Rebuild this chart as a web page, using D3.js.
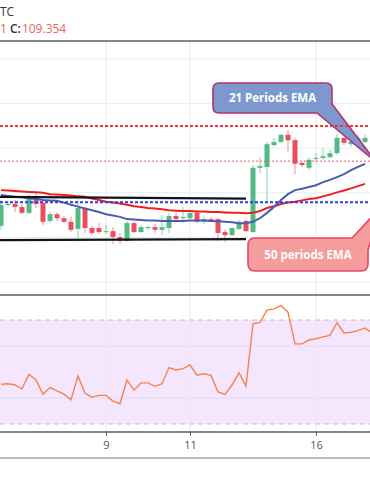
<!DOCTYPE html>
<html>
<head>
<meta charset="utf-8">
<script src="https://cdn.jsdelivr.net/npm/d3@7"></script>
<style>
  html, body { margin: 0; padding: 0; background: #fff; overflow: hidden; }
  svg { display: block; font-family: "Open Sans", "DejaVu Sans", sans-serif; }
</style>
</head>
<body>
<div id="chart"></div>
<script>
// 4h candles, EMA 21 / EMA 50 and RSI pane

// candle prices (open / high / low / close), one per 4h bar
var opens  = [109.126,109.173,109.175,109.168,109.155,109.191,109.177,109.137,109.152,109.143,
              109.135,109.119,109.166,109.121,109.121,109.112,109.114,109.101,109.092,109.132,
              109.112,109.121,109.123,109.117,109.121,109.148,109.143,109.143,109.155,109.135,
              109.141,109.141,109.112,109.105,109.119,109.137,109.112,109.256,109.258,109.307,
              109.314,109.330,109.318,109.267,109.256,109.276,109.278,109.280,109.289,109.323,
              109.309,109.314,109.314];
var highs  = [109.184,109.182,109.184,109.175,109.195,109.200,109.184,109.157,109.157,109.148,
              109.146,109.186,109.168,109.126,109.132,109.128,109.123,109.110,109.137,109.137,
              109.128,109.126,109.130,109.150,109.155,109.155,109.168,109.161,109.161,109.146,
              109.146,109.143,109.117,109.123,109.139,109.139,109.262,109.280,109.314,109.323,
              109.332,109.341,109.323,109.269,109.280,109.289,109.300,109.296,109.332,109.325,
              109.323,109.330,109.330];
var lows   = [109.117,109.168,109.157,109.152,109.152,109.166,109.128,109.132,109.137,109.132,
              109.112,109.090,109.110,109.105,109.108,109.108,109.085,109.085,109.090,109.110,
              109.110,109.117,109.110,109.105,109.110,109.135,109.132,109.139,109.132,109.130,
              109.135,109.092,109.090,109.103,109.117,109.112,109.110,109.244,109.179,109.303,
              109.312,109.291,109.242,109.258,109.251,109.271,109.274,109.278,109.285,109.307,
              109.303,109.307,109.312];
var closes = [109.173,109.175,109.168,109.155,109.193,109.175,109.135,109.152,109.143,109.135,
              109.117,109.166,109.121,109.110,109.112,109.114,109.101,109.092,109.132,109.112,
              109.123,109.123,109.117,109.123,109.148,109.141,109.146,109.155,109.135,109.141,
              109.137,109.110,109.105,109.121,109.135,109.114,109.256,109.260,109.309,109.314,
              109.330,109.318,109.265,109.262,109.274,109.278,109.282,109.289,109.323,109.312,
              109.314,109.323,109.323];

// moving averages
var ema21 = [109.195,109.193,109.191,109.190,109.188,109.186,109.184,109.183,109.182,109.178,
             109.173,109.169,109.165,109.161,109.157,109.152,109.149,109.146,109.141,109.140,
             109.139,109.138,109.138,109.137,109.137,109.137,109.137,109.138,109.138,109.138,
             109.137,109.136,109.135,109.134,109.132,109.132,109.135,109.143,109.155,109.168,
             109.184,109.197,109.206,109.209,109.213,109.217,109.224,109.229,109.235,109.242,
             109.251,109.258,109.265];
var ema50 = [109.206,109.205,109.204,109.203,109.202,109.201,109.200,109.197,109.196,109.195,
             109.194,109.192,109.191,109.187,109.184,109.180,109.178,109.176,109.173,109.170,
             109.168,109.166,109.165,109.163,109.161,109.160,109.159,109.159,109.158,109.158,
             109.157,109.157,109.156,109.155,109.155,109.154,109.155,109.159,109.166,109.170,
             109.175,109.178,109.180,109.183,109.186,109.188,109.192,109.196,109.201,109.205,
             109.210,109.215,109.220];

// RSI values, plus one extra point for the bar cut at the right edge
var rsi = [45.3,45.5,45.0,43.5,49.1,46.9,41.4,44.0,42.7,41.5,
           39.3,48.5,41.8,40.3,41.0,41.0,38.8,37.8,46.9,43.0,
           45.8,45.8,44.5,45.5,51.7,50.8,51.3,52.7,48.8,49.3,
           48.7,42.3,41.4,45.0,49.7,44.6,68.5,69.1,73.8,74.3,
           75.5,73.0,60.8,60.8,62.3,62.8,63.5,64.1,69.0,65.0,
           65.3,65.9,66.9,65.1];

// date ticks (bar index -> day of month)
var tickBars = [15, 27, 45];
var tickLabels = ["9", "11", "16"];

// drawn levels
var priceGrid = [109.0, 109.1, 109.2, 109.3, 109.4, 109.5];
var resistance = 109.350;
var minorLevel = 109.271;
var support = 109.179;
var channelTop = [109.191, 109.187];
var channelBottom = [109.094, 109.096];
var channelBars = [-1, 35];
var rsiGrid = [40, 60];
var rsiBand = [30, 70];

var svgWidth = 370;
var svgHeight = 493;

var svg = d3.select("#chart")
  .append("svg")
  .attr("width", svgWidth)
  .attr("height", svgHeight);

// Step 1: scales
// ==============================
var x = d3.scaleLinear().domain([0, 52]).range([1, 365]);
var y = d3.scaleLinear().domain([109.0, 109.5]).range([282, 59]);
var yRsi = d3.scaleLinear().domain([30, 70]).range([424, 320]);

var bars = d3.range(closes.length);
var green = "#53b987";
var red = "#eb4d5c";

// Step 2: header text
// ==============================
svg.append("text")
  .attr("x", 0).attr("y", 16)
  .attr("font-size", 12).attr("fill", "#333")
  .text("TC");

var legend = svg.append("text")
  .attr("x", 0).attr("y", 32.5)
  .attr("font-size", 12);
legend.append("tspan").attr("fill", "#ef5350").text("1 ");
legend.append("tspan").attr("fill", "#333").attr("font-weight", 600).text("C:");
legend.append("tspan").attr("fill", "#f06462").attr("dx", 1).text("109.354");

// Step 3: grid and panes
// ==============================
svg.append("rect")
  .attr("x", 0).attr("width", svgWidth)
  .attr("y", yRsi(rsiBand[1])).attr("height", yRsi(rsiBand[0]) - yRsi(rsiBand[1]))
  .attr("fill", "#f4e6fd");

svg.selectAll(".hgrid")
  .data(priceGrid)
  .enter().append("line")
  .attr("x1", 0).attr("x2", svgWidth)
  .attr("y1", d => y(d)).attr("y2", d => y(d))
  .attr("stroke", "#e7edf3");

svg.selectAll(".rgrid")
  .data(rsiGrid)
  .enter().append("line")
  .attr("x1", 0).attr("x2", svgWidth)
  .attr("y1", d => yRsi(d)).attr("y2", d => yRsi(d))
  .attr("stroke", "#e2dcf2");

svg.selectAll(".vgrid")
  .data(tickBars)
  .enter().append("line")
  .attr("x1", d => x(d)).attr("x2", d => x(d))
  .attr("y1", 41).attr("y2", 432)
  .attr("stroke", "#e4ebf2");

svg.selectAll(".band")
  .data(rsiBand)
  .enter().append("line")
  .attr("x1", 0).attr("x2", svgWidth)
  .attr("y1", d => yRsi(d)).attr("y2", d => yRsi(d))
  .attr("stroke", "#c4bccb")
  .attr("stroke-dasharray", "5 4");

// pane separators
[41, 295].forEach(function(py) {
  svg.append("line")
    .attr("x1", 0).attr("x2", svgWidth)
    .attr("y1", py).attr("y2", py)
    .attr("stroke", "#5d5d5d").attr("stroke-width", 1.3);
});

// Step 4: candles
// ==============================
var candles = svg.append("g").selectAll("g")
  .data(bars)
  .enter().append("g");

candles.append("line")
  .attr("x1", i => x(i)).attr("x2", i => x(i))
  .attr("y1", i => y(highs[i])).attr("y2", i => y(lows[i]))
  .attr("stroke", i => closes[i] >= opens[i] ? "#8fcfae" : "#f08d97");

candles.append("rect")
  .attr("x", i => x(i) - 2.5)
  .attr("width", 5)
  .attr("y", i => y(Math.max(opens[i], closes[i])))
  .attr("height", i => Math.max(1, Math.abs(y(opens[i]) - y(closes[i]))))
  .attr("fill", i => closes[i] >= opens[i] ? green : red);

// Step 5: EMA lines
// ==============================
var line = d3.line().x((d, i) => x(i)).y(d => y(d));

svg.append("path")
  .datum(ema50)
  .attr("d", line)
  .attr("fill", "none")
  .attr("stroke", "#f21d1d")
  .attr("stroke-width", 2);

svg.append("path")
  .datum(ema21)
  .attr("d", line)
  .attr("fill", "none")
  .attr("stroke", "#4b5cae")
  .attr("stroke-width", 2);

// Step 6: callouts
// ==============================
svg.append("path")
  .attr("d", "M219,83 H326 Q332,83 332,89 V104 L376,162 L317,113 H219 Q213,113 213,107 V89 Q213,83 219,83 Z")
  .attr("fill", "#7d98cf")
  .attr("stroke", "#b3306f")
  .attr("stroke-width", 1.6);

svg.append("text")
  .attr("x", 272.5).attr("y", 102)
  .attr("text-anchor", "middle")
  .attr("font-size", 11.5).attr("font-weight", 700)
  .attr("fill", "#fff")
  .text("21 Periods EMA");

svg.append("path")
  .attr("d", "M255,238 H352 L380,208 L368,250 V264 Q368,271 361,271 H255 Q248,271 248,264 V245 Q248,238 255,238 Z")
  .attr("fill", "#f59c9c")
  .attr("stroke", "#e6466d")
  .attr("stroke-width", 1.6);

svg.append("text")
  .attr("x", 308).attr("y", 258.5)
  .attr("text-anchor", "middle")
  .attr("font-size", 11.5).attr("font-weight", 700)
  .attr("fill", "#fff")
  .text("50 periods EMA");

// Step 7: drawn levels
// ==============================
svg.append("line")
  .attr("x1", 0).attr("x2", svgWidth)
  .attr("y1", y(resistance)).attr("y2", y(resistance))
  .attr("stroke", "#f5333f").attr("stroke-width", 2)
  .attr("stroke-dasharray", "3 2");

svg.append("line")
  .attr("x1", 0).attr("x2", svgWidth)
  .attr("y1", y(minorLevel)).attr("y2", y(minorLevel))
  .attr("stroke", "#ec5a66").attr("stroke-width", 1)
  .attr("stroke-dasharray", "2 2");

svg.append("line")
  .attr("x1", 0).attr("x2", svgWidth)
  .attr("y1", y(support)).attr("y2", y(support))
  .attr("stroke", "#2b3cf0").attr("stroke-width", 2)
  .attr("stroke-dasharray", "3 2");

[channelTop, channelBottom].forEach(function(lv) {
  svg.append("line")
    .attr("x1", x(channelBars[0])).attr("x2", x(channelBars[1]))
    .attr("y1", y(lv[0])).attr("y2", y(lv[1]))
    .attr("stroke", "#141414").attr("stroke-width", 2.2);
});

// Step 8: RSI line
// ==============================
svg.append("path")
  .datum(rsi)
  .attr("d", d3.line().x((d, i) => x(i)).y(d => yRsi(d)))
  .attr("fill", "none")
  .attr("stroke", "#f5844f")
  .attr("stroke-width", 1.4);

// Step 9: time axis
// ==============================
var bottomAxis = d3.axisBottom(x)
  .tickValues(tickBars)
  .tickFormat((d, i) => tickLabels[i])
  .tickSize(4)
  .tickSizeOuter(0);

var axisG = svg.append("g")
  .attr("transform", "translate(0, 432)")
  .call(bottomAxis);

axisG.select(".domain").remove();
axisG.selectAll(".tick line").attr("stroke", "#666");
axisG.selectAll(".tick text")
  .attr("fill", "#555")
  .attr("font-size", 11)
  .attr("font-family", "Open Sans, sans-serif")
  .attr("dy", "0.95em");

svg.append("line")
  .attr("x1", 0).attr("x2", svgWidth)
  .attr("y1", 432).attr("y2", 432)
  .attr("stroke", "#5d5d5d").attr("stroke-width", 1.3);

svg.append("line")
  .attr("x1", 0).attr("x2", svgWidth)
  .attr("y1", 458).attr("y2", 458)
  .attr("stroke", "#a8a8a8").attr("stroke-width", 1.6);
</script>
</body>
</html>
